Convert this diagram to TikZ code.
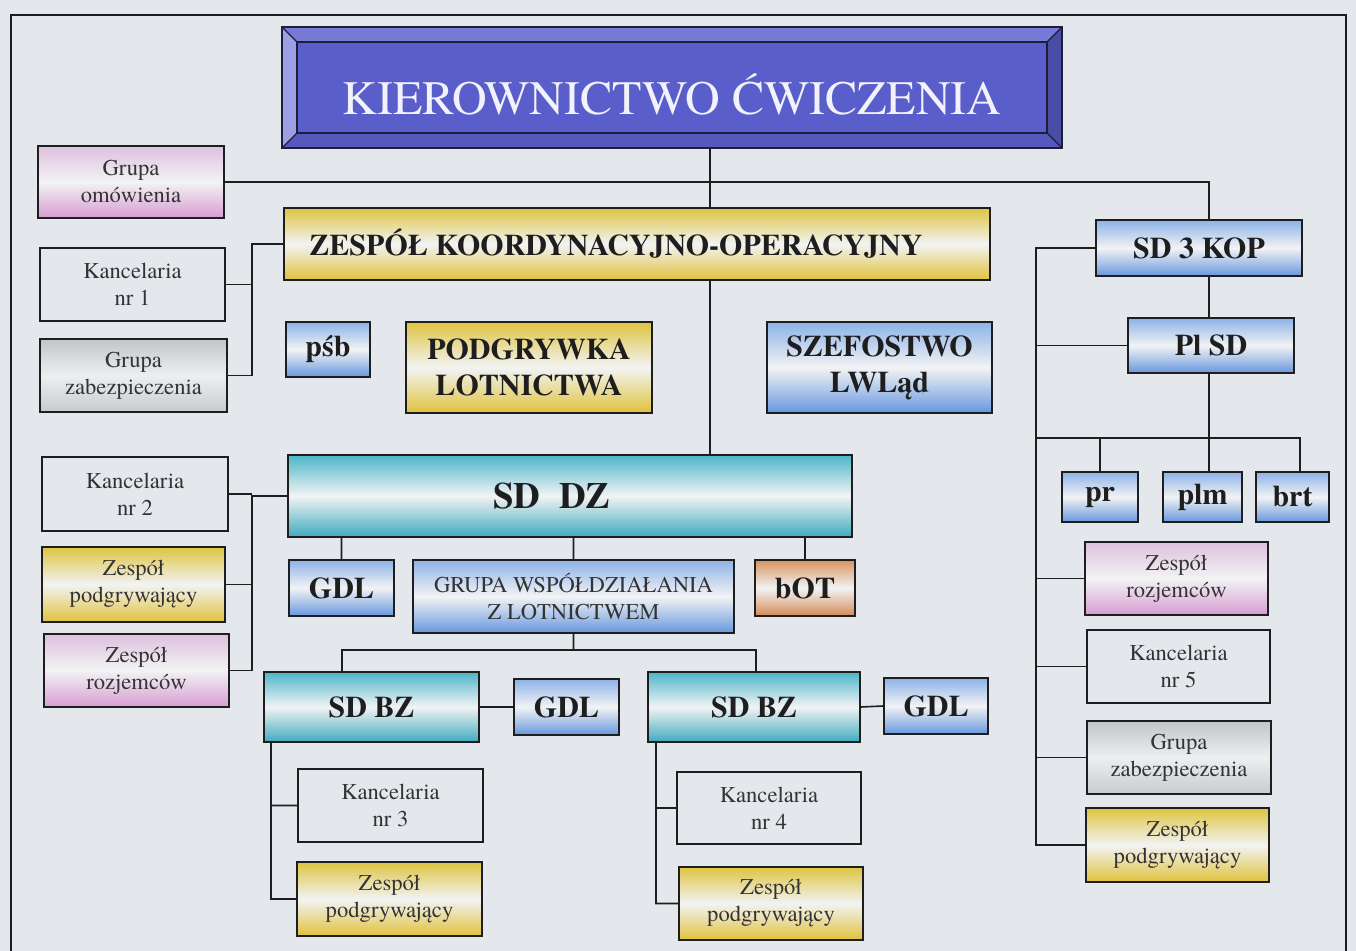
\documentclass[tikz,border=0pt]{standalone}
\usepackage{fontspec}
\setmainfont{texgyretermes}[Extension=.otf, UprightFont=*-regular, BoldFont=*-bold, ItalicFont=*-italic, BoldItalicFont=*-bolditalic]
\usepackage{tikz}
\usetikzlibrary{positioning,calc}

\definecolor{bg}{HTML}{E4E8EC}
\definecolor{mid}{HTML}{F2F3F4}
\definecolor{bluT}{HTML}{8DB2E8}
\definecolor{bluB}{HTML}{6797DE}
\definecolor{tealT}{HTML}{4DB6C8}
\definecolor{tealB}{HTML}{3FAABF}
\definecolor{goldT}{HTML}{DEC440}
\definecolor{goldB}{HTML}{E0C23C}
\definecolor{pnkT}{HTML}{DEC0DE}
\definecolor{pnkB}{HTML}{D79CD2}
\definecolor{gryT}{HTML}{C2C5C9}
\definecolor{gryB}{HTML}{C8CBCE}
\definecolor{orgT}{HTML}{D8925E}
\definecolor{orgB}{HTML}{D48A58}
\definecolor{tface}{HTML}{5A5ECA}
\definecolor{ttop}{HTML}{777BD6}
\definecolor{tleft}{HTML}{9DA0E3}
\definecolor{tbot}{HTML}{5558BD}
\definecolor{tright}{HTML}{4A4DA6}
\definecolor{tline}{HTML}{1E1E3A}
\definecolor{ink}{HTML}{1E1E1E}

\begin{document}
\begin{tikzpicture}[x=0.5pt,y=-0.5pt,
  box/.style={rectangle, draw=ink, line width=1pt, inner sep=0pt, align=center, text=ink},
  sz/.style 2 args={minimum width=#1*0.5pt, minimum height=#2*0.5pt},
  small/.style={font=\fontsize{11.3}{13.5}\selectfont, text=black!80},
  big/.style={font=\fontsize{15}{18}\selectfont\bfseries},
  blu/.style={top color=bluT, bottom color=bluB, middle color=mid},
  teal/.style={top color=tealT, bottom color=tealB, middle color=mid},
  gold/.style={top color=goldT, bottom color=goldB, middle color=mid},
  pnk/.style={top color=pnkT, bottom color=pnkB, middle color=mid},
  gry/.style={top color=gryT, bottom color=gryB, middle color=mid!90!gryT},
  org/.style={top color=orgT, bottom color=orgB, middle color=mid},
  conn/.style={draw=ink, line width=0.8pt}]

  \fill[bg] (0,0) rectangle (1356,951);
  \useasboundingbox (0,0) rectangle (1356,951);
  \draw[ink, line width=1pt] (11,951) |- (1346,15) -- (1346,951);

  % title
  \node (title) at (672,87.5) [sz={780}{121}, fill=tface, inner sep=0pt, text height=27.6pt,
    font=\fontsize{24}{28}\selectfont, text=white!92!tface] {KIEROWNICTWO ĆWICZENIA};
  \fill[ttop] (title.north west) -- (title.north east) -- ($(title.north east)+(-15,15)$) -- ($(title.north west)+(15,15)$) -- cycle;
  \fill[tleft] (title.north west) -- (title.south west) -- ($(title.south west)+(15,-15)$) -- ($(title.north west)+(15,15)$) -- cycle;
  \fill[tbot] (title.south west) -- (title.south east) -- ($(title.south east)+(-15,-15)$) -- ($(title.south west)+(15,-15)$) -- cycle;
  \fill[tright] (title.north east) -- (title.south east) -- ($(title.south east)+(-15,-15)$) -- ($(title.north east)+(-15,15)$) -- cycle;
  \draw[tline, line width=1pt] (title.north west) rectangle (title.south east);
  \draw[tline, line width=1pt] ($(title.north west)+(15,15)$) rectangle ($(title.south east)+(-15,-15)$);
  \draw[tline, line width=0.6pt]
    (title.north west) -- ++(15,15) (title.north east) -- ++(-15,15)
    (title.south west) -- ++(15,-15) (title.south east) -- ++(-15,-15);

  % left column
  \node (omow) at (131,182) [box, pnk, small, sz={186}{72}] {Grupa\\omówienia};
  \node (kanc1) at (132.5,284.5) [box, small, sz={185}{73}] {Kancelaria\\nr 1};
  \node (zab1) at (133.5,375.5) [box, gry, small, sz={187}{73}] {Grupa\\zabezpieczenia};
  \node (kanc2) at (135,494) [box, small, sz={186}{74}] {Kancelaria\\nr 2};
  \node (podg2) at (133.5,584.5) [box, gold, small, sz={183}{75}] {Zespół\\podgrywający};
  \node (rozj2) at (136.5,670.5) [box, pnk, small, sz={185}{73}] {Zespół\\rozjemców};

  % middle
  \node (zko) at (637,244) [box, gold, big, sz={706}{72}] {\hspace*{-21pt}ZESPÓŁ KOORDYNACYJNO-OPERACYJNY};
  \node (psb) at (328,349.5) [box, blu, big, sz={84}{55}] {pśb};
  \node (podlot) at (529,367.5) [box, gold, big, sz={246}{91}] {PODGRYWKA\\LOTNICTWA};
  \node (szef) at (879.5,367.5) [box, blu, big, sz={225}{91}] {SZEFOSTWO\\LWLąd};
  \node (sddz) at (570,496) [box, teal, sz={564}{82},
    font=\fontsize{18.5}{22}\selectfont\bfseries] {\hspace*{-18pt}SD\ \ DZ};
  \node (gdl1) at (341.5,588) [box, blu, big, sz={105}{56}] {GDL};
  \node (gwl) at (573.5,596.5) [box, blu, small, sz={321}{73}] {GRUPA WSPÓŁDZIAŁANIA\\Z LOTNICTWEM};
  \node (bot) at (805,588) [box, org, big, sz={100}{56}] {bOT};
  \node (sdbz1) at (371.5,707) [box, teal, big, sz={215}{70}] {SD BZ};
  \node (gdl2) at (566.5,707) [box, blu, big, sz={105}{56}] {GDL};
  \node (sdbz2) at (754,707) [box, teal, big, sz={212}{70}] {SD BZ};
  \node (gdl3) at (936,706) [box, blu, big, sz={104}{56}] {GDL};
  \node (kanc3) at (390.5,805.5) [box, small, sz={185}{73}] {Kancelaria\\nr 3};
  \node (podg3) at (389.5,899) [box, gold, small, sz={185}{74}] {Zespół\\podgrywający};
  \node (kanc4) at (769,808) [box, small, sz={184}{72}] {Kancelaria\\nr 4};
  \node (podg4) at (771,903.5) [box, gold, small, sz={184}{73}] {Zespół\\podgrywający};

  % right column
  \node (sd3) at (1199,248) [box, blu, big, sz={206}{56}] {SD 3 KOP};
  \node (plsd) at (1211,345.5) [box, blu, big, sz={166}{55}] {Pl SD};
  \node (pr) at (1100,497) [box, blu, big, sz={76}{50}] {pr};
  \node (plm) at (1202.5,497) [box, blu, big, sz={79}{50}] {plm};
  \node (brt) at (1292.5,497) [box, blu, big, sz={73}{50}] {brt};
  \node (rozj5) at (1176.5,578.5) [box, pnk, small, sz={183}{73}] {Zespół\\rozjemców};
  \node (kanc5) at (1178.5,666.5) [box, small, sz={183}{73}] {Kancelaria\\nr 5};
  \node (zab5) at (1179,757.5) [box, gry, small, sz={184}{73}] {Grupa\\zabezpieczenia};
  \node (podg5) at (1177.5,845) [box, gold, small, sz={183}{74}] {Zespół\\podgrywający};

  % connectors
  \coordinate (trunk) at (710,182);
  \coordinate (kop) at (1209,182);
  \coordinate (lb) at (252,0);
  \coordinate (rb) at (1036,438);
  \coordinate (rbr) at (1300,438);
  \coordinate (bzl) at (342,650);
  \coordinate (bzr) at (756,650);
  \coordinate (b1) at (271,0);
  \coordinate (b2) at (656,0);

  \path[conn]
    (trunk |- title.south) -- (trunk |- zko.north)
    (omow.east) -- (kop) -- (kop |- sd3.north)
    (kop |- sd3.south) -- (kop |- plsd.north)
    (kop |- plsd.south) -- (kop |- plm.north)
    (trunk |- zko.south) -- (trunk |- sddz.north);
  \path[conn]
    (zko.west) -- (zko.west -| lb) |- (zab1.east)
    (kanc1.east) -- (kanc1.east -| lb)
    (sddz.west) -- (sddz.west -| lb) |- (rozj2.east)
    (kanc2.east) -- (kanc2.east -| lb)
    (podg2.east) -- (podg2.east -| lb);
  \path[conn]
    (gdl1.north) -- (gdl1.north |- sddz.south)
    (gwl.north) -- (gwl.north |- sddz.south)
    (bot.north) -- (bot.north |- sddz.south)
    (gwl.south) -- (gwl.south |- bzl)
    (bzl |- sdbz1.north) |- (bzr) -- (bzr |- sdbz2.north)
    (sdbz1.east) -- (gdl2.west)
    (sdbz2.east) -- (gdl3.west)
    (b1 |- sdbz1.south) |- (podg3.west)
    (kanc3.west) -- (kanc3.west -| b1)
    (b2 |- sdbz2.south) |- (podg4.west)
    (kanc4.west) -- (kanc4.west -| b2);
  \path[conn]
    (sd3.west) -- (sd3.west -| rb) |- (podg5.west)
    (plsd.west) -- (plsd.west -| rb)
    (rb) -- (rbr) -- (rbr |- brt.north)
    (pr.north) -- (pr.north |- rb)
    (rozj5.west) -- (rozj5.west -| rb)
    (kanc5.west) -- (kanc5.west -| rb)
    (zab5.west) -- (zab5.west -| rb);
\end{tikzpicture}
\end{document}
